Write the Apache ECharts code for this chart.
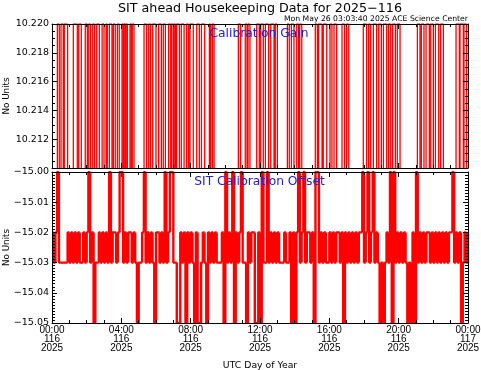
<!DOCTYPE html>
<html>
<head>
<meta charset="utf-8">
<script src="https://cdn.jsdelivr.net/npm/echarts@6/dist/echarts.min.js"></script>
<style>
  html, body { margin: 0; padding: 0; background: #fff; }
  #chart { width: 481px; height: 370px; }
</style>
</head>
<body>
<div id="chart"></div>
<script>
// x axis ticks (hours of day 116) and their labels
const hourTicks = [0, 4, 8, 12, 16, 20, 24];
const hourLabels = ['00:00', '04:00', '08:00', '12:00', '16:00', '20:00', '00:00'];
const dayLabels = ['116', '116', '116', '116', '116', '116', '117'];
const yearLabel = '2025';

// Calibration Gain: value sits off-scale low, spikes up to 10.220 during these intervals (hours)
const gainHigh = 10.220;
const gainLow = 10.208;
const gainSpikes = [
  [0.31, 0.42], [0.52, 0.65], [0.71, 0.90], [1.23, 1.46], [1.54, 1.69], [1.92, 2.04], [2.12, 2.23],
  [2.35, 2.46], [2.58, 2.73], [2.89, 3.00], [3.12, 3.19], [3.31, 3.46], [3.54, 3.65], [3.77, 3.88],
  [4.04, 4.12], [4.16, 4.24], [4.27, 4.35], [4.50, 4.58], [4.63, 4.73], [5.31, 5.46], [5.58, 5.69],
  [5.81, 6.00], [6.15, 6.31], [6.42, 6.54], [6.73, 6.85], [6.90, 7.00], [7.04, 7.12], [7.19, 7.35],
  [7.46, 7.62], [7.77, 7.88], [7.96, 8.15], [8.35, 8.50], [8.62, 8.81], [9.08, 9.15], [9.25, 9.35],
  [10.75, 10.88], [11.15, 11.25], [11.31, 11.42], [11.81, 11.96], [12.04, 12.19], [12.31, 12.50],
  [12.62, 12.81], [12.88, 13.00], [13.58, 13.69], [13.81, 13.96], [14.12, 14.23], [14.29, 14.41],
  [15.19, 15.31], [15.38, 15.58], [15.65, 15.85], [16.04, 16.15], [16.27, 16.42], [16.73, 16.88],
  [17.00, 17.12], [17.96, 18.15], [18.27, 18.38], [18.54, 18.73], [18.85, 19.00], [19.12, 19.31],
  [19.42, 19.54], [19.65, 19.81], [19.92, 20.08], [21.08, 21.23], [21.31, 21.46], [21.58, 21.77],
  [21.85, 22.00], [22.12, 22.31], [22.42, 22.58], [23.31, 23.50], [23.54, 23.73], [23.77, 23.92]
];

// SIT Calibration Offset, one sample every 0.1 h from 00:00 (one row per hour)
const offsetStep = 0.1;
const offsetValues = [
  -15.02, -15.03, -15.02, -15.00, -15.03, -15.03, -15.03, -15.03, -15.03, -15.02,
  -15.03, -15.02, -15.03, -15.02, -15.03, -15.02, -15.03, -15.03, -15.02, -15.03,
  -15.02, -15.00, -15.03, -15.02, -15.05, -15.03, -15.03, -15.02, -15.03, -15.02,
  -15.03, -15.02, -15.03, -15.00, -15.03, -15.02, -15.02, -15.03, -15.02, -15.00,
  -15.00, -15.03, -15.02, -15.03, -15.02, -15.02, -15.03, -15.02, -15.03, -15.05,
  -15.03, -15.03, -15.02, -15.00, -15.03, -15.02, -15.03, -15.02, -15.03, -15.05,
  -15.02, -15.02, -15.03, -15.02, -15.03, -15.00, -15.03, -15.02, -15.00, -15.00,
  -15.03, -15.03, -15.05, -15.05, -15.02, -15.03, -15.02, -15.05, -15.02, -15.03,
  -15.02, -15.03, -15.05, -15.02, -15.05, -15.05, -15.03, -15.02, -15.03, -15.05,
  -15.02, -15.03, -15.02, -15.03, -15.02, -15.03, -15.03, -15.03, -15.02, -15.05,
  -15.00, -15.03, -15.02, -15.03, -15.00, -15.05, -15.02, -15.03, -15.02, -15.00,
  -15.03, -15.03, -15.05, -15.02, -15.03, -15.02, -15.02, -15.05, -15.05, -15.02,
  -15.05, -15.00, -15.03, -15.03, -15.00, -15.03, -15.02, -15.03, -15.02, -15.03,
  -15.02, -15.03, -15.03, -15.03, -15.02, -15.03, -15.03, -15.02, -15.05, -15.02,
  -15.05, -15.02, -15.00, -15.03, -15.02, -15.00, -15.03, -15.02, -15.02, -15.03,
  -15.02, -15.05, -15.00, -15.00, -15.03, -15.02, -15.03, -15.02, -15.03, -15.03,
  -15.02, -15.03, -15.02, -15.03, -15.02, -15.02, -15.03, -15.02, -15.05, -15.02,
  -15.03, -15.02, -15.03, -15.02, -15.03, -15.02, -15.03, -15.02, -15.02, -15.00,
  -15.03, -15.02, -15.00, -15.03, -15.02, -15.00, -15.03, -15.02, -15.03, -15.05,
  -15.03, -15.05, -15.03, -15.02, -15.03, -15.00, -15.05, -15.00, -15.03, -15.02,
  -15.03, -15.02, -15.03, -15.02, -15.03, -15.05, -15.03, -15.05, -15.02, -15.05,
  -15.00, -15.03, -15.02, -15.03, -15.02, -15.03, -15.02, -15.02, -15.03, -15.02,
  -15.03, -15.02, -15.03, -15.02, -15.03, -15.02, -15.03, -15.02, -15.03, -15.02,
  -15.02, -15.00, -15.03, -15.02, -15.03, -15.02, -15.05, -15.03, -15.02, -15.03,
  -15.02
];

const RED = '#ff0000';
const BLUE = '#2222cc';
const FONT = 'DejaVu Sans';

// each sample drawn as its own little step (jump at t, hold until next t), broken by '-'
// so zrender does not merge the short flat pieces into slanted lines
function stepLine(pts, tEnd) {
  const out = [];
  pts.forEach((p, i) => {
    const prev = i > 0 ? pts[i - 1][1] : p[1];
    const next = i + 1 < pts.length ? pts[i + 1][0] : tEnd;
    out.push([p[0], prev], [p[0], p[1]], [next, p[1]], '-');
  });
  return out;
}

function gainLine() {
  const pts = [[0, gainLow]];
  gainSpikes.forEach(s => { pts.push([s[0], gainHigh], [s[1], gainLow]); });
  return stepLine(pts, 24);
}

function offsetLine() {
  return stepLine(offsetValues.map((v, i) => [+(i * offsetStep).toFixed(1), v]), 24);
}

function xLabel(v) {
  const i = hourTicks.indexOf(v);
  return i < 0 ? '' : hourLabels[i] + '\n' + dayLabels[i] + '\n' + yearLabel;
}

function minus(s) {
  return s.replace('-', '\u2212');
}

function xAxisFor(grid, pos, labels) {
  return {
    type: 'value', gridIndex: grid, position: pos, min: 0, max: 24, interval: 4, z: 5,
    axisLine: { show: true, onZero: false, lineStyle: { color: '#000', width: 1 } },
    axisTick: { show: true, inside: true, length: 5, lineStyle: { color: '#000' } },
    minorTick: { show: true, splitNumber: 4, length: 3, lineStyle: { color: '#000' } },
    splitLine: { show: false },
    axisLabel: labels ? {
      show: true, margin: 3, color: '#000', fontFamily: 'Liberation Sans', fontSize: 10,
      lineHeight: 9, formatter: xLabel, showMinLabel: true, showMaxLabel: true
    } : { show: false },
    name: labels ? 'UTC Day of Year' : '',
    nameLocation: 'middle', nameGap: 38,
    nameTextStyle: { color: '#000', fontFamily: FONT, fontSize: 9.3 }
  };
}

function yAxisFor(grid, pos, range, labels) {
  return {
    type: 'value', gridIndex: grid, position: pos, z: 5,
    min: range.min, max: range.max, interval: range.interval,
    axisLine: { show: true, onZero: false, lineStyle: { color: '#000', width: 1 } },
    axisTick: { show: true, inside: true, length: 5, lineStyle: { color: '#000' } },
    minorTick: { show: true, splitNumber: range.minor, length: 3, lineStyle: { color: '#000' } },
    splitLine: { show: false },
    axisLabel: labels ? {
      show: true, margin: 3, color: '#000', fontFamily: FONT, fontSize: 9.5,
      showMinLabel: range.showMin, showMaxLabel: true,
      formatter: v => minus(v.toFixed(range.digits))
    } : { show: false },
    name: labels ? 'No Units' : '',
    nameLocation: 'middle', nameGap: 41, nameRotate: 90, nameMoveOverlap: false,
    nameTextStyle: { color: '#000', fontFamily: FONT, fontSize: 8.8 }
  };
}

const gainRange = { min: 10.210, max: 10.220, interval: 0.002, minor: 4, digits: 3, showMin: false };
const offsetRange = { min: -15.05, max: -15.00, interval: 0.01, minor: 10, digits: 2, showMin: true };

const options = {
  animation: false,
  backgroundColor: '#fff',
  grid: [
    { left: 52, right: 13, top: 24, height: 144, containLabel: false, outerBoundsMode: 'none' },
    { left: 52, right: 13, top: 172, height: 151, containLabel: false, outerBoundsMode: 'none' }
  ],
  xAxis: [
    xAxisFor(0, 'bottom', false),
    xAxisFor(0, 'top', false),
    xAxisFor(1, 'bottom', true),
    xAxisFor(1, 'top', false)
  ],
  yAxis: [
    yAxisFor(0, 'left', gainRange, true),
    yAxisFor(0, 'right', gainRange, false),
    yAxisFor(1, 'left', offsetRange, true),
    yAxisFor(1, 'right', offsetRange, false)
  ],
  graphic: [
    { type: 'text', x: 260, y: 9, style: { text: 'SIT ahead Housekeeping Data for 2025\u2212116', fill: '#000',
      font: '12.7px "DejaVu Sans"', align: 'center', verticalAlign: 'middle' } },
    { type: 'text', x: 468, y: 19.5, style: { text: 'Mon May 26 03:03:40 2025 ACE Science Center', fill: '#000',
      font: '7.7px "DejaVu Sans"', align: 'right', verticalAlign: 'middle' } },
    { type: 'text', x: 259, y: 33.5, z: 10, style: { text: 'Calibration Gain', fill: BLUE,
      font: '12.3px "DejaVu Sans"', align: 'center', verticalAlign: 'middle' } },
    { type: 'text', x: 259.5, y: 182, z: 10, style: { text: 'SIT Calibration Offset', fill: BLUE,
      font: '12.3px "DejaVu Sans"', align: 'center', verticalAlign: 'middle' } }
  ],
  series: [
    {
      name: 'Calibration Gain', type: 'line', xAxisIndex: 0, yAxisIndex: 0, clip: true,
      data: gainLine(), showSymbol: false, connectNulls: false,
      lineStyle: { color: RED, width: 1.3 }, itemStyle: { color: RED }
    },
    {
      name: 'SIT Calibration Offset', type: 'line', xAxisIndex: 2, yAxisIndex: 2, clip: true,
      data: offsetLine(), showSymbol: false, connectNulls: false,
      lineStyle: { color: RED, width: 2.4 }, itemStyle: { color: RED }
    }
  ]
};

const chart = echarts.init(document.getElementById('chart'));
chart.setOption(options);
</script>
</body>
</html>
